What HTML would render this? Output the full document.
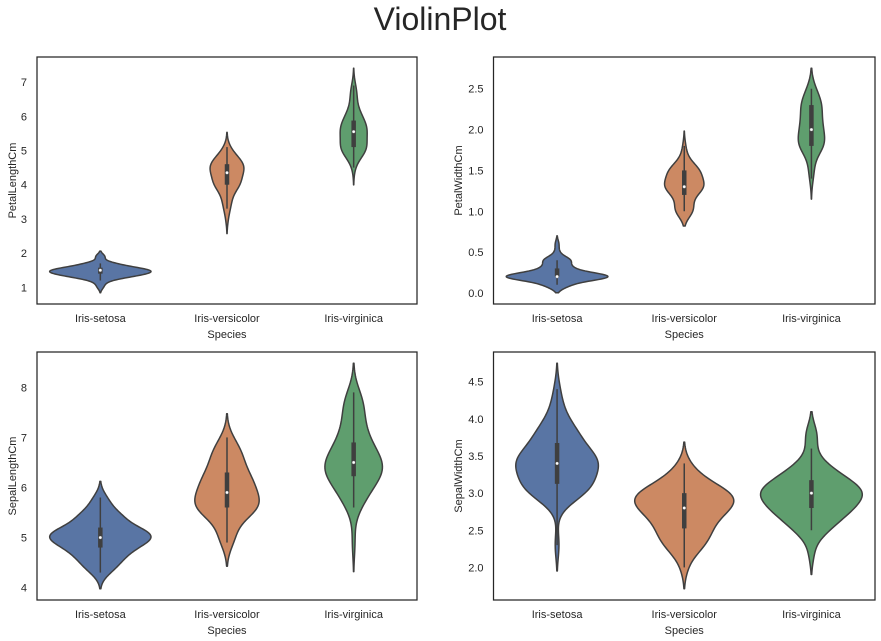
<!DOCTYPE html>
<html><head><meta charset="utf-8"><style>
html,body{margin:0;padding:0;background:#fff;}
svg{display:block;font-family:"Liberation Sans",Arial,sans-serif;}
</style></head><body>
<svg id="fig" width="881" height="641" viewBox="0 0 881 641" xmlns="http://www.w3.org/2000/svg">
<rect x="0" y="0" width="881" height="641" fill="#fff"/>
<text x="440" y="30" text-anchor="middle" font-size="32" fill="#262626">ViolinPlot</text>
</svg>
<script>
const categories=["Iris-setosa","Iris-versicolor","Iris-virginica"];
const colors=["#5975a4","#cc8963","#5f9e6e"];
const setosaSepalLength=[5.1,4.9,4.7,4.6,5.0,5.4,4.6,5.0,4.4,4.9,5.4,4.8,4.8,4.3,5.8,5.7,5.4,5.1,5.7,5.1,5.4,5.1,4.6,5.1,4.8,5.0,5.0,5.2,5.2,4.7,4.8,5.4,5.2,5.5,4.9,5.0,5.5,4.9,4.4,5.1,5.0,4.5,4.4,5.0,5.1,4.8,5.1,4.6,5.3,5.0];
const setosaSepalWidth=[3.5,3.0,3.2,3.1,3.6,3.9,3.4,3.4,2.9,3.1,3.7,3.4,3.0,3.0,4.0,4.4,3.9,3.5,3.8,3.8,3.4,3.7,3.6,3.3,3.4,3.0,3.4,3.5,3.4,3.2,3.1,3.4,4.1,4.2,3.1,3.2,3.5,3.1,3.0,3.4,3.5,2.3,3.2,3.5,3.8,3.0,3.8,3.2,3.7,3.3];
const setosaPetalLength=[1.4,1.4,1.3,1.5,1.4,1.7,1.4,1.5,1.4,1.5,1.5,1.6,1.4,1.1,1.2,1.5,1.3,1.4,1.7,1.5,1.7,1.5,1.0,1.7,1.9,1.6,1.6,1.5,1.4,1.6,1.6,1.5,1.5,1.4,1.5,1.2,1.3,1.5,1.3,1.5,1.3,1.3,1.3,1.6,1.9,1.4,1.6,1.4,1.5,1.4];
const setosaPetalWidth=[0.2,0.2,0.2,0.2,0.2,0.4,0.3,0.2,0.2,0.1,0.2,0.2,0.1,0.1,0.2,0.4,0.4,0.3,0.3,0.3,0.2,0.4,0.2,0.5,0.2,0.2,0.4,0.2,0.2,0.2,0.2,0.4,0.1,0.2,0.1,0.2,0.2,0.1,0.2,0.2,0.3,0.3,0.2,0.6,0.4,0.3,0.2,0.2,0.2,0.2];
const versicolorSepalLength=[7.0,6.4,6.9,5.5,6.5,5.7,6.3,4.9,6.6,5.2,5.0,5.9,6.0,6.1,5.6,6.7,5.6,5.8,6.2,5.6,5.9,6.1,6.3,6.1,6.4,6.6,6.8,6.7,6.0,5.7,5.5,5.5,5.8,6.0,5.4,6.0,6.7,6.3,5.6,5.5,5.5,6.1,5.8,5.0,5.6,5.7,5.7,6.2,5.1,5.7];
const versicolorSepalWidth=[3.2,3.2,3.1,2.3,2.8,2.8,3.3,2.4,2.9,2.7,2.0,3.0,2.2,2.9,2.9,3.1,3.0,2.7,2.2,2.5,3.2,2.8,2.5,2.8,2.9,3.0,2.8,3.0,2.9,2.6,2.4,2.4,2.7,2.7,3.0,3.4,3.1,2.3,3.0,2.5,2.6,3.0,2.6,2.3,2.7,3.0,2.9,2.9,2.5,2.8];
const versicolorPetalLength=[4.7,4.5,4.9,4.0,4.6,4.5,4.7,3.3,4.6,3.9,3.5,4.2,4.0,4.7,3.6,4.4,4.5,4.1,4.5,3.9,4.8,4.0,4.9,4.7,4.3,4.4,4.8,5.0,4.5,3.5,3.8,3.7,3.9,5.1,4.5,4.5,4.7,4.4,4.1,4.0,4.4,4.6,4.0,3.3,4.2,4.2,4.2,4.3,3.0,4.1];
const versicolorPetalWidth=[1.4,1.5,1.5,1.3,1.5,1.3,1.6,1.0,1.3,1.4,1.0,1.5,1.0,1.4,1.3,1.4,1.5,1.0,1.5,1.1,1.8,1.3,1.5,1.2,1.3,1.4,1.4,1.7,1.5,1.0,1.1,1.0,1.2,1.6,1.5,1.6,1.5,1.3,1.3,1.3,1.2,1.4,1.2,1.0,1.3,1.2,1.3,1.3,1.1,1.3];
const virginicaSepalLength=[6.3,5.8,7.1,6.3,6.5,7.6,4.9,7.3,6.7,7.2,6.5,6.4,6.8,5.7,5.8,6.4,6.5,7.7,7.7,6.0,6.9,5.6,7.7,6.3,6.7,7.2,6.2,6.1,6.4,7.2,7.4,7.9,6.4,6.3,6.1,7.7,6.3,6.4,6.0,6.9,6.7,6.9,5.8,6.8,6.7,6.7,6.3,6.5,6.2,5.9];
const virginicaSepalWidth=[3.3,2.7,3.0,2.9,3.0,3.0,2.5,2.9,2.5,3.6,3.2,2.7,3.0,2.5,2.8,3.2,3.0,3.8,2.6,2.2,3.2,2.8,2.8,2.7,3.3,3.2,2.8,3.0,2.8,3.0,2.8,3.8,2.8,2.8,2.6,3.0,3.4,3.1,3.0,3.1,3.1,3.1,2.7,3.2,3.3,3.0,2.5,3.0,3.4,3.0];
const virginicaPetalLength=[6.0,5.1,5.9,5.6,5.8,6.6,4.5,6.3,5.8,6.1,5.1,5.3,5.5,5.0,5.1,5.3,5.5,6.7,6.9,5.0,5.7,4.9,6.7,4.9,5.7,6.0,4.8,4.9,5.6,5.8,6.1,6.4,5.6,5.1,5.6,6.1,5.6,5.5,4.8,5.4,5.6,5.1,5.1,5.9,5.7,5.2,5.0,5.2,5.4,5.1];
const virginicaPetalWidth=[2.5,1.9,2.1,1.8,2.2,2.1,1.7,1.8,1.8,2.5,2.0,1.9,2.1,2.0,2.4,2.3,1.8,2.2,2.3,1.5,2.3,2.0,2.0,1.8,2.1,1.8,1.8,1.8,2.1,1.6,1.9,2.0,2.2,1.5,1.4,2.3,2.4,1.8,1.8,2.1,2.4,2.3,1.9,2.3,2.5,2.3,1.9,2.0,2.3,1.8];
const ticksPetalLength=[1,2,3,4,5,6,7];
const ticksPetalWidth=[0.0,0.5,1.0,1.5,2.0,2.5];
const ticksSepalLength=[4,5,6,7,8];
const ticksSepalWidth=[2.0,2.5,3.0,3.5,4.0,4.5];

const NS="http://www.w3.org/2000/svg";
const svg=document.getElementById('fig');
const GRAY="#3f3f3f";
function mk(tag,attrs,parent){const e=document.createElementNS(NS,tag);for(const k in attrs)e.setAttribute(k,attrs[k]);(parent||svg).appendChild(e);return e;}
function std(a){const m=a.reduce((s,v)=>s+v,0)/a.length;return Math.sqrt(a.reduce((s,v)=>s+(v-m)*(v-m),0)/(a.length-1));}
function pct(a,p){const s=[...a].sort((x,y)=>x-y);const i=(s.length-1)*p;const lo=Math.floor(i),hi=Math.ceil(i);return s[lo]+(s[hi]-s[lo])*(i-lo);}
function kde(a){
  const bw=std(a)*Math.pow(a.length,-0.2);
  const mn=Math.min(...a)-2*bw,mx=Math.max(...a)+2*bw;
  const sup=[],den=[];
  for(let i=0;i<100;i++){const x=mn+(mx-mn)*i/99;let d=0;for(const v of a){const z=(x-v)/bw;d+=Math.exp(-0.5*z*z);}sup.push(x);den.push(d/(a.length*bw*Math.sqrt(2*Math.PI)));}
  return {sup,den};
}
function panel(o){
  const {L,R,T,B,sets,ticks,ylabel,name,ylx}=o;
  const g=mk('g',{});
  
  
  const ks=sets.map(kde);
  const gmax=Math.max(...ks.map(k=>Math.max(...k.den)));
  let lo=Math.min(...ks.map(k=>k.sup[0])),hi=Math.max(...ks.map(k=>k.sup[99]));
  const m=(hi-lo)*0.05;lo-=m;hi+=m;
  const y=v=>B-(v-lo)/(hi-lo)*(B-T);
  const band=(R-L)/categories.length;
  const x=i=>L+band*(i+0.5);
  const sc=0.4*band/gmax;
  ks.forEach((k,i)=>{
    let d='';
    for(let j=0;j<100;j++)d+=(j?'L':'M')+(x(i)-k.den[j]*sc).toFixed(2)+','+y(k.sup[j]).toFixed(2);
    for(let j=99;j>=0;j--)d+='L'+(x(i)+k.den[j]*sc).toFixed(2)+','+y(k.sup[j]).toFixed(2);
    d+='Z';
    const p=mk('path',{d,fill:colors[i],stroke:GRAY,'stroke-width':1.5,'stroke-linejoin':'round'},g);
    
    
    const a=sets[i];
    const q1=pct(a,0.25),q3=pct(a,0.75),med=pct(a,0.5),iqr=q3-q1;
    const h1=Math.min(...a.filter(v=>v>=q1-1.5*iqr)),h2=Math.max(...a.filter(v=>v<=q3+1.5*iqr));
    const w=mk('line',{x1:x(i),x2:x(i),y1:y(h1),y2:y(h2),stroke:GRAY,'stroke-width':1.5},g);
    
    
    const bx=mk('line',{x1:x(i),x2:x(i),y1:y(q1),y2:y(q3),stroke:GRAY,'stroke-width':4.5},g);
    
    
    const c=mk('circle',{cx:x(i),cy:y(med),r:1.6,fill:'#fff',stroke:GRAY,'stroke-width':0.3},g);
    
    
    const t=mk('text',{x:x(i),y:B+18,'text-anchor':'middle','font-size':11,fill:'#262626'},g);
    t.textContent=categories[i];
    
    
  });
  ticks.forEach(v=>{
    const t=mk('text',{x:L-10,y:y(v)+4,'text-anchor':'end','font-size':11,fill:'#262626'},g);
    t.textContent=(ticks.some(q=>q%1!==0))?v.toFixed(1):String(v);
    
    
  });
  const f=mk('rect',{x:L,y:T,width:R-L,height:B-T,fill:'none',stroke:'#262626','stroke-width':1.25},g);
  
  
  const xl=mk('text',{x:(L+R)/2,y:B+34,'text-anchor':'middle','font-size':11,fill:'#262626'},g);
  xl.textContent='Species';
  
  
  const yx=ylx,yy=(T+B)/2;
  const yl=mk('text',{x:yx,y:yy,'text-anchor':'middle','font-size':11,fill:'#262626',transform:`rotate(-90 ${yx} ${yy})`},g);
  yl.textContent=ylabel;
  
  
}
panel({name:'petal-length-panel',L:37,R:417,T:57,B:304,ylx:16,ylabel:'PetalLengthCm',ticks:ticksPetalLength,sets:[setosaPetalLength,versicolorPetalLength,virginicaPetalLength]});
panel({name:'petal-width-panel',L:493.5,R:875,T:57,B:304,ylx:462,ylabel:'PetalWidthCm',ticks:ticksPetalWidth,sets:[setosaPetalWidth,versicolorPetalWidth,virginicaPetalWidth]});
panel({name:'sepal-length-panel',L:37,R:417,T:352,B:600,ylx:16,ylabel:'SepalLengthCm',ticks:ticksSepalLength,sets:[setosaSepalLength,versicolorSepalLength,virginicaSepalLength]});
panel({name:'sepal-width-panel',L:493.5,R:875,T:352,B:600,ylx:462,ylabel:'SepalWidthCm',ticks:ticksSepalWidth,sets:[setosaSepalWidth,versicolorSepalWidth,virginicaSepalWidth]});
</script>
</body></html>
